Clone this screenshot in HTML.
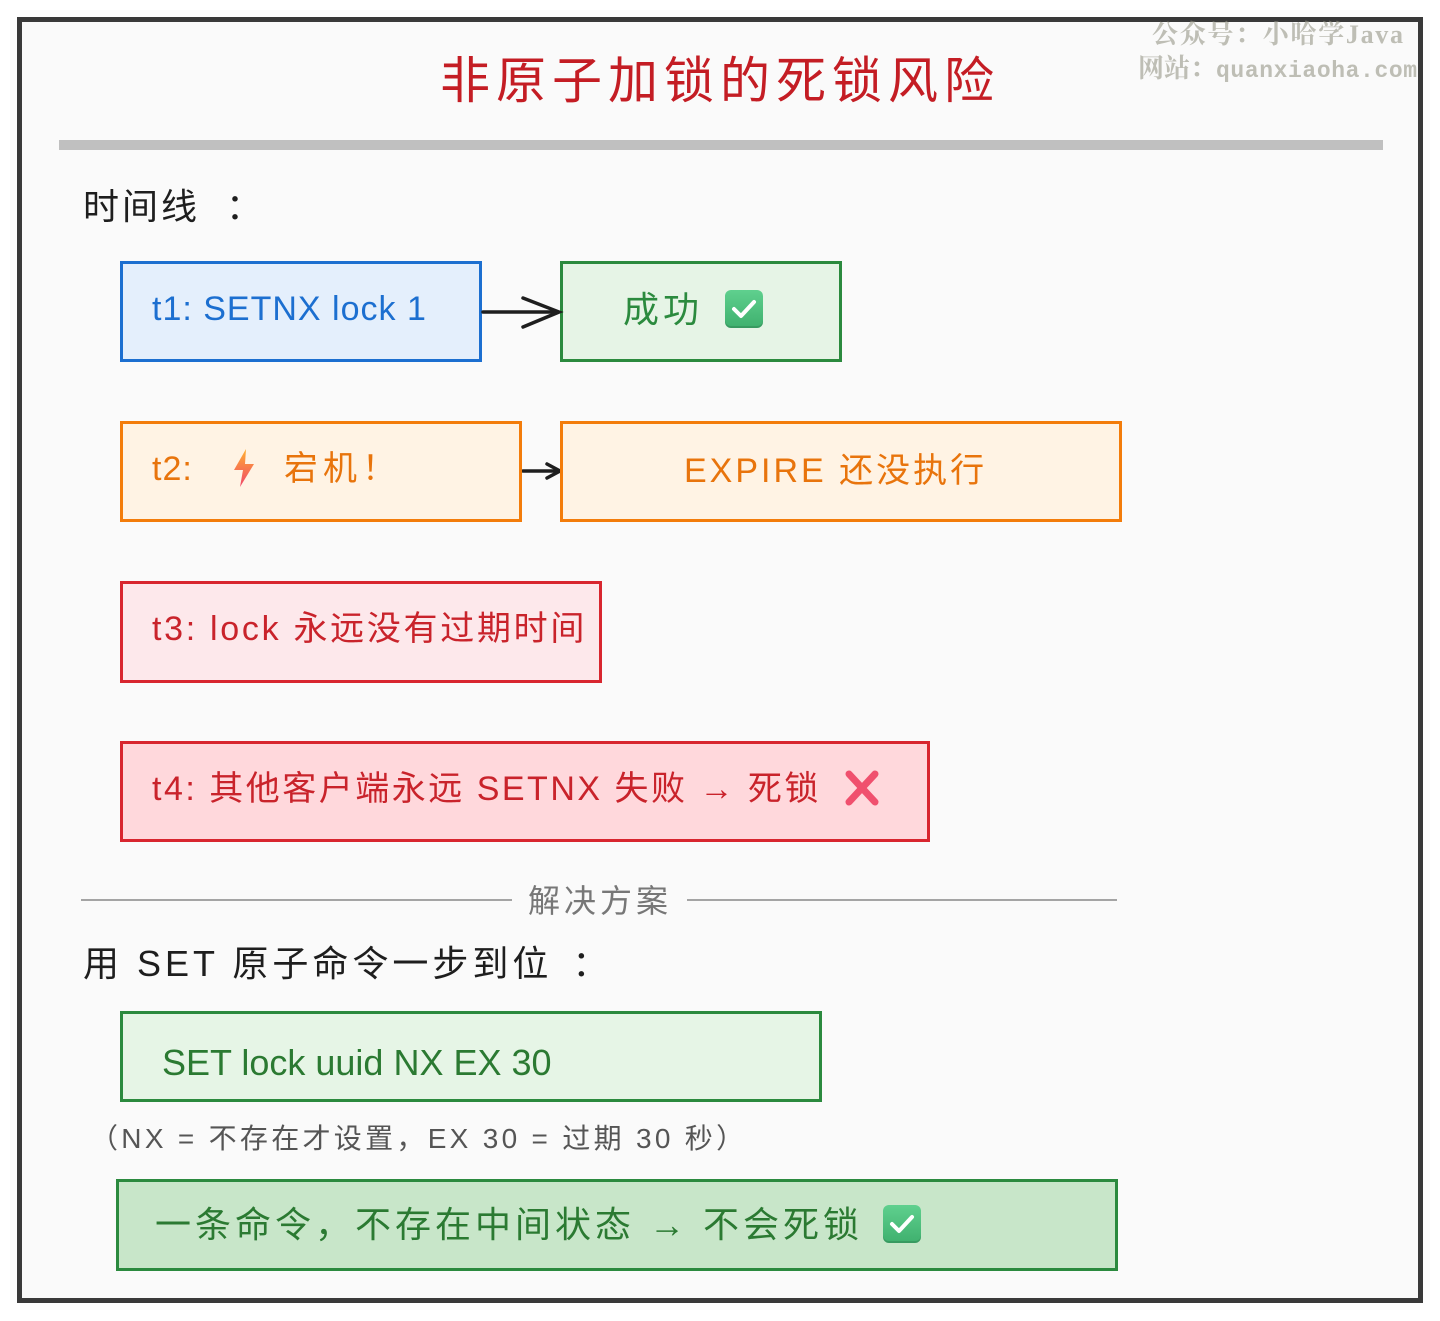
<!DOCTYPE html>
<html><head><meta charset="utf-8"><style>
html,body{margin:0;padding:0;background:#fff;}
body{width:1440px;height:1321px;position:relative;overflow:hidden;font-family:"Liberation Sans","Noto Sans CJK SC",sans-serif;}
.frame{position:absolute;left:17px;top:17px;width:1396px;height:1276px;border:5px solid #3a3a3a;background:#fafafa;}
.abs{position:absolute;white-space:nowrap;}
.box{position:absolute;box-sizing:border-box;border:3px solid;}
.t{position:absolute;white-space:nowrap;line-height:1;}
.chk{position:absolute;width:38px;height:38px;border-radius:6px;background:linear-gradient(#5fd08e,#3fb06e);box-shadow:inset 0 -2px 0 rgba(0,0,0,0.12);}
</style></head><body>
<div class="frame"></div>

<!-- watermark -->
<div class="t" style="left:1152px;top:22px;font-size:26px;letter-spacing:1.7px;color:rgba(150,150,135,0.6);font-weight:bold;font-family:'Liberation Serif','Noto Serif CJK SC',serif;">公众号：小哈学Java</div>
<div class="t" style="left:1138px;top:56px;font-size:26px;color:rgba(150,150,135,0.6);font-weight:bold;font-family:'Liberation Serif','Noto Serif CJK SC',serif;">网站：<span style="font-family:'Liberation Mono',monospace;font-size:23px;letter-spacing:0.6px;">quanxiaoha.com</span></div>

<!-- title -->
<div class="t" style="left:440px;top:56px;font-size:50px;letter-spacing:6px;color:#c41d24;">非原子加锁的死锁风险</div>
<div class="abs" style="left:59px;top:140px;width:1324px;height:10px;background:#c0c0c0;"></div>

<div class="t" style="left:83px;top:189px;font-size:36px;letter-spacing:3px;color:#1e1e1e;">时间线<span style="margin-left:26px;">：</span></div>

<!-- row 1 -->
<div class="box" style="left:120px;top:261px;width:362px;height:101px;border-color:#1c6fd0;background:#e4effc;"></div>
<div class="t" style="left:152px;top:292px;font-size:34px;letter-spacing:1px;color:#1c6fd0;">t1: SETNX lock 1</div>
<div class="box" style="left:560px;top:261px;width:282px;height:101px;border-color:#2b8a3e;background:#e6f4e6;"></div>
<div class="t" style="left:623px;top:292px;font-size:36px;letter-spacing:4px;color:#2b8a3e;">成功</div>
<div class="chk" style="left:725px;top:290px;"><svg width="38" height="38" viewBox="0 0 38 38"><path d="M9 19 L16 26 L29 12" fill="none" stroke="#fff" stroke-width="4" stroke-linecap="round" stroke-linejoin="round"/></svg></div>

<svg class="abs" style="left:0;top:0;" width="1440" height="1321">
  <g stroke="#1e1e1e" stroke-width="3.5" fill="none" stroke-linecap="round">
    <path d="M483 312 L558 312"/>
    <path d="M523 298 L559 312 L523 327"/>
    <path d="M523 471 L558 471"/>
    <path d="M547 464 L560 471 L547 478"/>
  </g>
  <line x1="81" y1="900" x2="512" y2="900" stroke="#888" stroke-width="1.5"/>
  <line x1="687" y1="900" x2="1117" y2="900" stroke="#888" stroke-width="1.5"/>
</svg>

<!-- row 2 -->
<div class="box" style="left:120px;top:421px;width:402px;height:101px;border-color:#f37c0a;background:#fff3e4;"></div>
<div class="t" style="left:152px;top:452px;font-size:34px;letter-spacing:1px;color:#e8740c;">t2:</div>
<svg class="abs" style="left:231px;top:449px;" width="26" height="38" viewBox="0 0 26 38"><defs><linearGradient id="lg" x1="0" y1="0" x2="0" y2="1"><stop offset="0" stop-color="#ffb030"/><stop offset="1" stop-color="#f0456a"/></linearGradient></defs><polygon points="15,0 3,21 12,21 9,38 23,15 14,15" fill="url(#lg)"/></svg>
<div class="t" style="left:284px;top:452px;font-size:34px;letter-spacing:5px;color:#e8740c;">宕机！</div>
<div class="box" style="left:560px;top:421px;width:562px;height:101px;border-color:#f37c0a;background:#fff3e4;"></div>
<div class="t" style="left:684px;top:454px;font-size:34px;letter-spacing:3px;color:#e8740c;">EXPIRE 还没执行</div>

<!-- row 3 -->
<div class="box" style="left:120px;top:581px;width:482px;height:102px;border-color:#d8262f;background:#fde8eb;"></div>
<div class="t" style="left:152px;top:612px;font-size:34px;letter-spacing:2.7px;color:#c9232b;">t3: lock 永远没有过期时间</div>

<!-- row 4 -->
<div class="box" style="left:120px;top:741px;width:810px;height:101px;border-color:#d8262f;background:#ffd8dc;"></div>
<div class="t" style="left:152px;top:772px;font-size:34px;letter-spacing:2.5px;color:#c9232b;">t4: 其他客户端永远 SETNX 失败 → 死锁</div>
<svg class="abs" style="left:843px;top:769px;" width="38" height="38" viewBox="0 0 38 38"><g stroke="#f0506e" stroke-width="7" stroke-linecap="round"><path d="M6 5 L32 33"/><path d="M32 5 L6 33"/></g></svg>

<!-- divider -->
<div class="t" style="left:528px;top:885px;font-size:32px;letter-spacing:4px;color:#777;">解决方案</div>

<div class="t" style="left:83px;top:946px;font-size:36px;letter-spacing:4px;color:#1e1e1e;">用 SET 原子命令一步到位<span style="margin-left:20px;">：</span></div>

<div class="box" style="left:120px;top:1011px;width:702px;height:91px;border-color:#2b8a3e;background:#e6f5e6;"></div>
<div class="t" style="left:162px;top:1045px;font-size:36px;color:#2b7a32;">SET lock uuid NX EX 30</div>

<div class="t" style="left:90px;top:1125px;font-size:28px;letter-spacing:3.3px;color:#555;">（NX = 不存在才设置，EX 30 = 过期 30 秒）</div>

<div class="box" style="left:116px;top:1179px;width:1002px;height:92px;border-color:#2b8a3e;background:#c8e6c9;"></div>
<div class="t" style="left:155px;top:1207px;font-size:36px;letter-spacing:4px;color:#2b7a32;">一条命令，不存在中间状态 → 不会死锁</div>
<div class="chk" style="left:883px;top:1205px;"><svg width="38" height="38" viewBox="0 0 38 38"><path d="M9 19 L16 26 L29 12" fill="none" stroke="#fff" stroke-width="4" stroke-linecap="round" stroke-linejoin="round"/></svg></div>
</body></html>
